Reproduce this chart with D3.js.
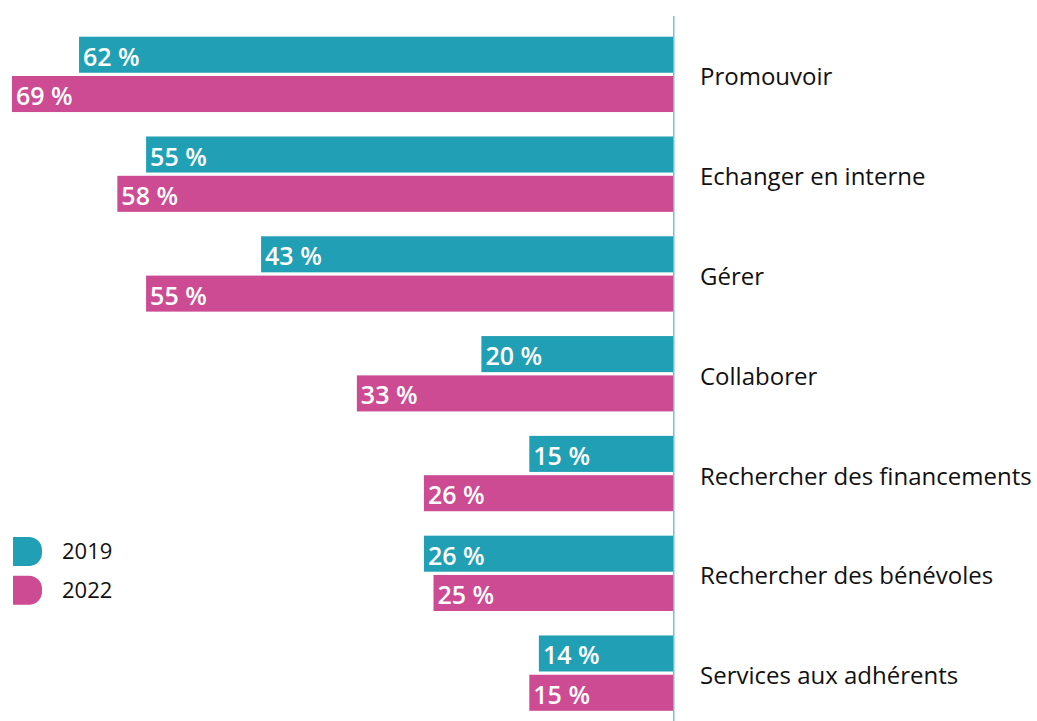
<!DOCTYPE html>
<html>
<head>
<meta charset="utf-8">
<script src="https://cdn.jsdelivr.net/npm/d3@7"></script>
<style>
  body { margin: 0; background: #fff; }
  svg { display: block; font-family: "Open Sans", sans-serif; }
  .barLabel { fill: #fff; font-weight: 600; font-size: 25px; }
  .catLabel { fill: #111; font-size: 24px; }
  .legendText { fill: #111; font-size: 22px; }
</style>
</head>
<body>
<svg width="1037" height="721"></svg>
<script>
"use strict"

const categories = ["Promouvoir", "Echanger en interne", "Gérer", "Collaborer",
  "Rechercher des financements", "Rechercher des bénévoles", "Services aux adhérents"]
const series = ["2019", "2022"]
const values2019 = [62, 55, 43, 20, 15, 26, 14]
const values2022 = [69, 58, 55, 33, 26, 25, 15]
const colors = ["#219fb4", "#cc4b92"]

let svg = d3.select("svg"),
    width = +svg.attr("width"),
    height = +svg.attr("height")

let x0 = 673
let x = d3.scaleLinear().domain([0, 70]).range([x0, x0 - 70 * 9.58])

let y = d3.scaleBand()
    .domain(categories)
    .range([36.7, 710.8])
    .paddingInner(0.245)
    .paddingOuter(0)
    .align(0)

let ySub = d3.scaleBand()
    .domain(series)
    .range([0, y.bandwidth()])
    .paddingInner(0.083)

let color = d3.scaleOrdinal().domain(series).range(colors)

let rows = categories.map((c, i) => ({
  cat: c,
  vals: [{s: "2019", v: values2019[i]}, {s: "2022", v: values2022[i]}]
}))

let group = svg.selectAll(".group")
  .data(rows)
  .enter().append("g")
    .attr("class", "group")
    .attr("transform", d => "translate(0," + y(d.cat) + ")")

let bar = group.selectAll(".bar")
  .data(d => d.vals)
  .enter().append("g")
    .attr("class", "bar")

bar.append("rect")
    .attr("x", d => x(d.v))
    .attr("y", d => ySub(d.s))
    .attr("width", d => x0 - x(d.v))
    .attr("height", ySub.bandwidth())
    .attr("fill", d => color(d.s))

bar.append("text")
    .attr("class", "barLabel")
    .attr("x", d => x(d.v) + 4)
    .attr("y", d => ySub(d.s) + ySub.bandwidth() / 2 + 11)
    .text(d => d.v + " %")

group.append("text")
    .attr("class", "catLabel")
    .attr("x", 700)
    .attr("y", y.bandwidth() / 2 + 11)
    .text(d => d.cat)

// vertical axis line
svg.append("line")
    .attr("x1", x0 + 0.75).attr("x2", x0 + 0.75)
    .attr("y1", 16).attr("y2", height)
    .attr("stroke", "#6cc3d0")
    .attr("stroke-width", 1.5)

// legend
let legend = svg.selectAll(".legend")
  .data(series)
  .enter().append("g")
    .attr("class", "legend")
    .attr("transform", (d, i) => "translate(13," + (537 + i * 38.7) + ")")

let w = 29, h = 29, r = 13
legend.append("path")
    .attr("d", "M0,0 H" + (w - r) + " A" + r + "," + r + " 0 0 1 " + w + "," + r +
               " V" + (h - r) + " A" + r + "," + r + " 0 0 1 " + (w - r) + "," + h + " H0 Z")
    .attr("fill", d => color(d))

legend.append("text")
    .attr("class", "legendText")
    .attr("x", 49)
    .attr("y", 22)
    .text(d => d)
</script>
</body>
</html>
